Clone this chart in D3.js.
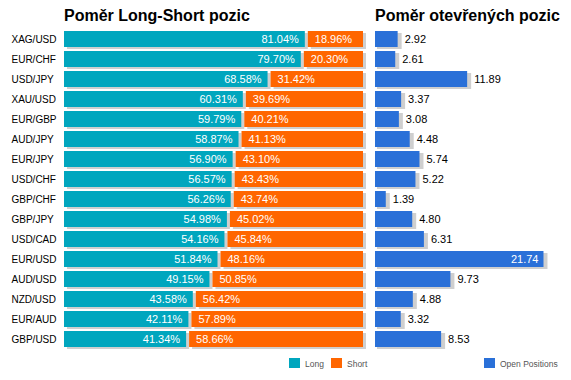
<!DOCTYPE html>
<html lang="cs">
<head>
    <meta charset="UTF-8">
    <title>Poměr Long-Short pozic</title>
    <script src="https://d3js.org/d3.v7.min.js"></script>
    <style>
        body {
            margin: 0;
            padding: 0;
            background: #fff;
        }

        svg {
            display: block;
            font-family: Arial, "Liberation Sans", sans-serif;
        }
    </style>
</head>
<body>
    <svg id="chart"></svg>

    <script>
        // data
        const pairs = ["XAG/USD", "EUR/CHF", "USD/JPY", "XAU/USD", "EUR/GBP", "AUD/JPY", "EUR/JPY", "USD/CHF",
                       "GBP/CHF", "GBP/JPY", "USD/CAD", "EUR/USD", "AUD/USD", "NZD/USD", "EUR/AUD", "GBP/USD"];
        const longPct = [81.04, 79.70, 68.58, 60.31, 59.79, 58.87, 56.90, 56.57,
                         56.26, 54.98, 54.16, 51.84, 49.15, 43.58, 42.11, 41.34];
        const shortPct = [18.96, 20.30, 31.42, 39.69, 40.21, 41.13, 43.10, 43.43,
                          43.74, 45.02, 45.84, 48.16, 50.85, 56.42, 57.89, 58.66];
        const openPos = [2.92, 2.61, 11.89, 3.37, 3.08, 4.48, 5.74, 5.22,
                         1.39, 4.80, 6.31, 21.74, 9.73, 4.88, 3.32, 8.53];

        const width = 571, height = 380;
        const teal = "#00a6be", orange = "#ff6600", blue = "#2a70d8", shadow = "#cfcfcf";

        const svg = d3.select("#chart")
            .attr("width", width)
            .attr("height", height);

        const rows = pairs.map((p, i) => ({ pair: p, long: longPct[i], short: shortPct[i], open: openPos[i] }));

        const y = d3.scaleBand()
            .domain(pairs)
            .range([29, 349])
            .paddingInner(0.2)
            .paddingOuter(0.1);

        const xPct = d3.scaleLinear().domain([0, 100]).range([64, 363]);
        const xOpen = d3.scaleLinear().domain([0, 24]).range([375, 561]);

        const gap = 1.5;

        // titles
        svg.append("text")
            .attr("x", 64).attr("y", 21)
            .attr("font-size", 16).attr("font-weight", "bold")
            .text("Poměr Long-Short pozic");

        svg.append("text")
            .attr("x", 375).attr("y", 21)
            .attr("font-size", 16).attr("font-weight", "bold")
            .text("Poměr otevřených pozic");

        // pair labels
        svg.append("g")
            .selectAll("text")
            .data(rows)
            .join("text")
            .attr("x", 11.5)
            .attr("y", d => y(d.pair) + y.bandwidth() / 2 + 3.6)
            .attr("font-size", 10)
            .attr("fill", "#000")
            .text(d => d.pair);

        // left chart: shadows first
        const left = svg.append("g");

        left.selectAll("rect.sl")
            .data(rows)
            .join("rect")
            .attr("x", d => xPct(0) + 3)
            .attr("y", d => y(d.pair) + 2)
            .attr("width", d => xPct(d.long) - gap - xPct(0))
            .attr("height", y.bandwidth())
            .attr("fill", shadow);

        left.selectAll("rect.ss")
            .data(rows)
            .join("rect")
            .attr("x", d => xPct(d.long) + gap + 3)
            .attr("y", d => y(d.pair) + 2)
            .attr("width", d => xPct(100) - xPct(d.long) - gap)
            .attr("height", y.bandwidth())
            .attr("fill", shadow);

        left.selectAll("rect.long")
            .data(rows)
            .join("rect")
            .attr("class", "long")
            .attr("x", xPct(0))
            .attr("y", d => y(d.pair))
            .attr("width", d => xPct(d.long) - gap - xPct(0))
            .attr("height", y.bandwidth())
            .attr("fill", teal);

        left.selectAll("rect.short")
            .data(rows)
            .join("rect")
            .attr("class", "short")
            .attr("x", d => xPct(d.long) + gap)
            .attr("y", d => y(d.pair))
            .attr("width", d => xPct(100) - xPct(d.long) - gap)
            .attr("height", y.bandwidth())
            .attr("fill", orange);

        left.selectAll("text.lv")
            .data(rows)
            .join("text")
            .attr("class", "lv")
            .attr("x", d => xPct(d.long) - gap - 6)
            .attr("y", d => y(d.pair) + y.bandwidth() / 2 + 4)
            .attr("text-anchor", "end")
            .attr("font-size", 11)
            .attr("fill", "#fff")
            .text(d => d.long.toFixed(2) + "%");

        left.selectAll("text.sv")
            .data(rows)
            .join("text")
            .attr("class", "sv")
            .attr("x", d => xPct(d.long) + gap + 7)
            .attr("y", d => y(d.pair) + y.bandwidth() / 2 + 4)
            .attr("font-size", 11)
            .attr("fill", "#fff")
            .text(d => d.short.toFixed(2) + "%");

        // right chart
        const right = svg.append("g");

        right.selectAll("rect.so")
            .data(rows)
            .join("rect")
            .attr("x", xOpen(0) + 2)
            .attr("y", d => y(d.pair) + 2)
            .attr("width", d => xOpen(d.open) - xOpen(0) + 2)
            .attr("height", y.bandwidth())
            .attr("fill", shadow);

        right.selectAll("rect.open")
            .data(rows)
            .join("rect")
            .attr("class", "open")
            .attr("x", xOpen(0))
            .attr("y", d => y(d.pair))
            .attr("width", d => xOpen(d.open) - xOpen(0))
            .attr("height", y.bandwidth())
            .attr("fill", blue);

        right.selectAll("text.ov")
            .data(rows)
            .join("text")
            .attr("class", "ov")
            .attr("x", d => d.open > 20 ? xOpen(d.open) - 5 : xOpen(d.open) + 7)
            .attr("y", d => y(d.pair) + y.bandwidth() / 2 + 4)
            .attr("text-anchor", d => d.open > 20 ? "end" : "start")
            .attr("font-size", 11)
            .attr("fill", d => d.open > 20 ? "#fff" : "#000")
            .text(d => d.open.toFixed(2));

        // legends
        const legendItems = [
            { label: "Long", color: teal, x: 289 },
            { label: "Short", color: orange, x: 331 },
            { label: "Open Positions", color: blue, x: 484 }
        ];

        const legend = svg.append("g")
            .selectAll("g")
            .data(legendItems)
            .join("g")
            .attr("transform", d => `translate(${d.x},358)`);

        legend.append("rect")
            .attr("width", 11)
            .attr("height", 10)
            .attr("fill", d => d.color);

        legend.append("text")
            .attr("x", 16)
            .attr("y", 9)
            .attr("font-size", 8.5)
            .attr("fill", "#555")
            .text(d => d.label);
    </script>
</body>
</html>
